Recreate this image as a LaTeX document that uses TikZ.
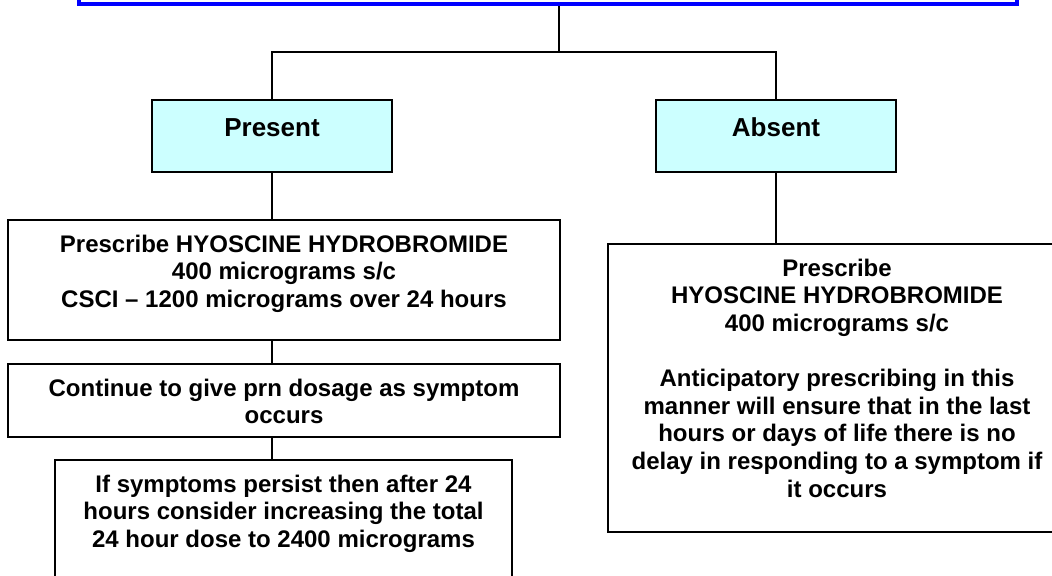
\documentclass[tikz,border=0pt]{standalone}
\usepackage{fontspec}
\setmainfont{Liberation Sans}
\definecolor{paleaqua}{RGB}{204,255,255}
\definecolor{hdrblue}{RGB}{0,0,255}
% text block of a box: width, height, top aligned
\newcommand{\boxtext}[4][6.5pt]{\parbox[c][#3][t]{#2}{\vspace*{#1}\centering\strut#4}}

\begin{document}
\begin{tikzpicture}[x=0.5pt, y=-0.5pt, font=\bfseries\fontsize{12}{13.8}\selectfont,
    box/.style={draw=black, line width=0.8pt, inner sep=0pt},
    choice/.style={box, fill=paleaqua},
    link/.style={line width=0.8pt}]
  \useasboundingbox (0,0) rectangle (1052,575);
  % header box, cut off by the top edge
  \node[draw=hdrblue, line width=2pt, minimum width=469pt, minimum height=22pt, inner sep=0pt] (top) at (548,-18) {};
  \coordinate (split) at (559,52);
  % the two answers
  \node[choice] (present) at (272,136) {\boxtext[8.6pt]{120pt}{36pt}{\fontsize{13}{15}\selectfont Present}};
  \node[choice] (absent)  at (776,136) {\boxtext[8.6pt]{120pt}{36pt}{\fontsize{13}{15}\selectfont Absent}};
  % left column
  \node[box] (presc) at (284,280) {\boxtext{276pt}{60pt}{Prescribe HYOSCINE HYDROBROMIDE\\400 micrograms s/c\\CSCI – 1200 micrograms over 24 hours}};
  \node[box] (cont) at (284,400.5) {\boxtext{276pt}{36.5pt}{Continue to give prn dosage as symptom\\occurs}};
  \node[box] (ifrule) at (283.5,530) {\boxtext{228.5pt}{70pt}{If symptoms persist then after 24\\hours consider increasing the total\\24 hour dose to 2400 micrograms}};
  % right column
  \node[box] (absrx) at (837,388) {\boxtext{229pt}{144pt}{Prescribe\\HYOSCINE HYDROBROMIDE\\400 micrograms s/c\\[13.8pt]Anticipatory prescribing in this\\manner will ensure that in the last\\hours or days of life there is no\\delay in responding to a symptom if\\it occurs}};
  % connectors
  \draw[link] (split |- top.south) -- (split);
  \draw[link] (present.north) |- (split) -| (absent.north);
  \draw[link] (present.south) -- (present.south |- presc.north);
  \draw[link] (present.south |- presc.south) -- (present.south |- cont.north);
  \draw[link] (present.south |- cont.south) -- (present.south |- ifrule.north);
  \draw[link] (absent.south) -- (absent.south |- absrx.north);
\end{tikzpicture}
\end{document}
